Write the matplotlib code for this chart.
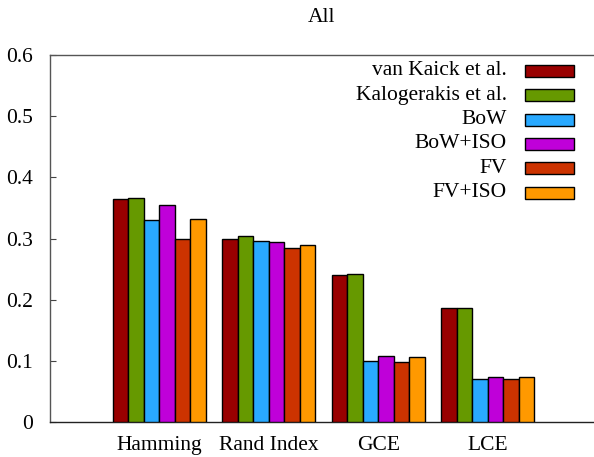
import matplotlib.pyplot as plt
import numpy as np
from matplotlib.patches import Rectangle

plt.rcParams["font.family"] = ["Liberation Serif", "DejaVu Serif"]

categories = ["Hamming", "Rand Index", "GCE", "LCE"]
methods = ["van Kaick et al.", "Kalogerakis et al.", "BoW", "BoW+ISO", "FV", "FV+ISO"]
colors = ["#990000", "#669900", "#29a9ff", "#bf00d9", "#cc3300", "#ff9900"]
values = {
    "van Kaick et al.":   [0.364, 0.300, 0.240, 0.187],
    "Kalogerakis et al.": [0.367, 0.304, 0.242, 0.187],
    "BoW":                [0.330, 0.296, 0.100, 0.070],
    "BoW+ISO":            [0.354, 0.294, 0.108, 0.073],
    "FV":                 [0.300, 0.284, 0.098, 0.070],
    "FV+ISO":             [0.332, 0.290, 0.107, 0.073],
}

fig = plt.figure(figsize=(5.94, 4.57), dpi=100)
ax = fig.add_axes([0.0842, 0.0766, 0.9158, 0.803])

x = np.arange(len(categories))
w = 0.1416
for i, (m, c) in enumerate(zip(methods, colors)):
    ax.bar(x + (i - 2.5) * w, values[m], width=w, color=c,
           edgecolor="black", linewidth=1.0, zorder=3)

ax.set_xlim(-1, 3.97)
ax.set_ylim(0, 0.6)
ax.set_yticks([0, 0.1, 0.2, 0.3, 0.4, 0.5, 0.6])
ax.set_yticklabels(["0", "0.1", "0.2", "0.3", "0.4", "0.5", "0.6"])
ax.set_xticks(x)
ax.set_xticklabels(categories)
ax.tick_params(axis="y", direction="in", length=4, pad=12, labelsize=15.5, color="#444444")
ax.tick_params(axis="x", length=0, pad=10, labelsize=15.5)
ax.spines["right"].set_visible(False)
for s in ["left", "top", "bottom"]:
    ax.spines[s].set_color("#555555")
    ax.spines[s].set_linewidth(1.0)
ax.spines["bottom"].set_color("#222222")

ax.set_title("All", fontsize=15.5, pad=24)

# legend, gnuplot style: right-aligned labels, boxes on the right
x_text = (507 - 50) / 544
x_box0 = (525 - 50) / 544
box_w = 49 / 544
box_h = 12 / 367
y0 = (422 - 70.7) / 367
dy = 24.4 / 367
for i, (m, c) in enumerate(zip(methods, colors)):
    yy = y0 - i * dy
    ax.text(x_text, yy, m, transform=ax.transAxes, ha="right", va="center",
            fontsize=15.5)
    ax.add_patch(Rectangle((x_box0, yy - box_h / 2), box_w, box_h,
                           transform=ax.transAxes, facecolor=c,
                           edgecolor="black", linewidth=1.0, zorder=4))

fig.savefig("out.png", dpi=100)
